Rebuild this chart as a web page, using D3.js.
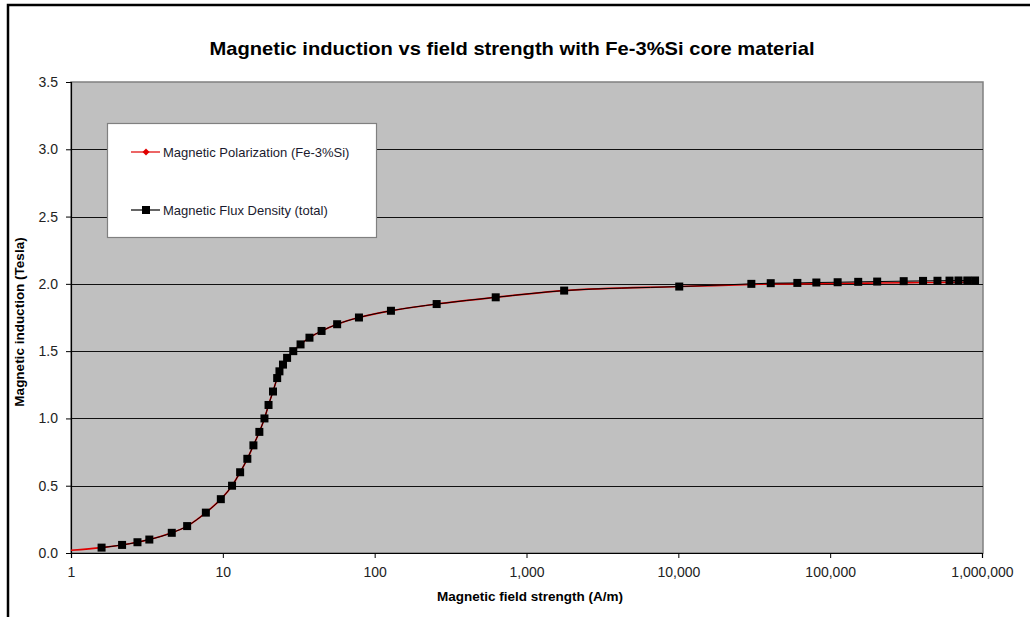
<!DOCTYPE html>
<html><head><meta charset="utf-8">
<script src="https://cdn.jsdelivr.net/npm/d3@7"></script>
<style>body{margin:0;background:#fff;}svg{display:block;font-family:"Liberation Sans",Arial,sans-serif;}</style>
</head><body><svg id="c" width="1030" height="617"></svg>
<script>
// Field strength H (A/m) for Magnetic Flux Density (total)
const fieldH = [1.59,2.17,2.74,3.28,4.61,5.82,7.73,9.7,11.5,13.0,14.5,15.9,17.4,18.8,20.0,21.4,22.8,23.6,24.9,26.5,29.1,32.5,37.2,44.7,56.6,78.8,128,256,627,1770,10140,30260,40600,60800,81100,112000,153000,204000,305000,409000,509000,611000,700000,800000,900000];
const fluxB = [0.04,0.06,0.08,0.10,0.15,0.20,0.30,0.40,0.50,0.60,0.70,0.80,0.90,1.00,1.10,1.20,1.30,1.35,1.40,1.45,1.50,1.55,1.60,1.65,1.70,1.75,1.80,1.85,1.90,1.95,1.98,2.00,2.005,2.007,2.01,2.012,2.015,2.017,2.02,2.022,2.023,2.024,2.025,2.025,2.025];
// Magnetic Polarization (Fe-3%Si)
const polH = [1,1.59,2.17,2.74,3.28,4.61,5.82,7.73,9.7,11.5,13.0,14.5,15.9,17.4,18.8,20.0,21.4,22.8,23.6,24.9,26.5,29.1,32.5,37.2,44.7,56.6,78.8,128,256,627,1770,10140,30260,40600,60800,81100,112000,153000,204000,305000,409000,509000,611000,700000,800000,900000];
const polJ = [0.02,0.04,0.06,0.08,0.10,0.15,0.20,0.30,0.40,0.50,0.60,0.70,0.80,0.90,1.00,1.10,1.20,1.30,1.35,1.40,1.45,1.50,1.55,1.60,1.65,1.70,1.75,1.80,1.85,1.90,1.95,1.98,1.995,2.0,2.0,2.002,2.003,2.005,2.006,2.008,2.01,2.01,2.012,2.012,2.013,2.013];
const xTicks = [1,10,100,1000,10000,100000,1000000];
const yTicks = [0,0.5,1.0,1.5,2.0,2.5,3.0,3.5];
const seriesNames = ["Magnetic Polarization (Fe-3%Si)","Magnetic Flux Density (total)"];

const svg = d3.select("#c");
const L=71, R=982, T=82, B=553;
const x = d3.scaleLog().domain([1,1e6]).range([L,R]);
const y = d3.scaleLinear().domain([0,3.5]).range([B,T]);

// outer frame
svg.append("path").attr("d","M8,617 V5 H1030").attr("fill","none").attr("stroke","#000").attr("stroke-width",2.5);

svg.append("text").attr("x",512).attr("y",55).attr("text-anchor","middle")
  .attr("font-size",18.5).attr("font-weight","bold").attr("textLength",605).attr("lengthAdjust","spacingAndGlyphs")
  .text("Magnetic induction vs field strength with Fe-3%Si core material");

// plot area
svg.append("rect").attr("x",L).attr("y",T).attr("width",R-L+1).attr("height",B-T).attr("fill","#c0c0c0").attr("stroke","#808080").attr("stroke-width",1.5);

// gridlines
svg.append("g").selectAll("line").data(yTicks.filter(d=>d>0 && d<3.5)).join("line")
  .attr("x1",L).attr("x2",R+1).attr("y1",d=>Math.round(y(d))+0.5).attr("y2",d=>Math.round(y(d))+0.5)
  .attr("stroke","#111").attr("stroke-width",1);

// axes
const yAxis = d3.axisLeft(y).tickValues(yTicks).tickFormat(d3.format(".1f")).tickSize(5).tickPadding(8);
const gy = svg.append("g").attr("transform",`translate(${L},0)`).call(yAxis);
const xAxis = d3.axisBottom(x).tickValues(xTicks).tickFormat(d3.format(",")).tickSize(5).tickPadding(9);
const gx = svg.append("g").attr("transform",`translate(0,${B})`).call(xAxis);
[gx,gy].forEach(g=>{
  g.select(".domain").attr("stroke","#000").attr("stroke-width",1.2);
  g.selectAll(".tick line").attr("stroke","#000");
  g.selectAll(".tick text").attr("font-size",14).attr("fill","#222").attr("font-family","'Liberation Sans',Arial,sans-serif");
});

svg.append("text").attr("x",530).attr("y",601).attr("text-anchor","middle").attr("font-size",13.5).attr("font-weight","bold")
  .text("Magnetic field strength (A/m)");
svg.append("text").attr("transform","translate(24,322) rotate(-90)").attr("text-anchor","middle").attr("font-size",13.5).attr("font-weight","bold")
  .text("Magnetic induction (Tesla)");

// lines
const line = d3.line().x(d=>x(d[0])).y(d=>y(d[1])).curve(d3.curveMonotoneX);
const polData = polH.map((h,i)=>[h,polJ[i]]);
const fluxData = fieldH.map((h,i)=>[h,fluxB[i]]);
svg.append("path").datum(polData).attr("d",line).attr("fill","none").attr("stroke","#e00000").attr("stroke-width",1.6);
svg.append("path").datum(fluxData).attr("d",line).attr("fill","none").attr("stroke","#000").attr("stroke-width",1);
svg.append("g").selectAll("rect").data(fluxData).join("rect")
  .attr("x",d=>x(d[0])-4).attr("y",d=>y(d[1])-4).attr("width",8).attr("height",8).attr("fill","#000");

// legend
const lg = svg.append("g");
lg.append("rect").attr("x",107.5).attr("y",123.5).attr("width",269).attr("height",114).attr("fill","#fff").attr("stroke","#808080").attr("stroke-width",1.2);
const ly = [152,210];
lg.append("line").attr("x1",131).attr("x2",160).attr("y1",ly[0]).attr("y2",ly[0]).attr("stroke","#e00000").attr("stroke-width",1.2);
lg.append("path").attr("d",`M146,${ly[0]-3.5} L149.5,${ly[0]} L146,${ly[0]+3.5} L142.5,${ly[0]} Z`).attr("fill","#e00000");
lg.append("line").attr("x1",131).attr("x2",160).attr("y1",ly[1]).attr("y2",ly[1]).attr("stroke","#000").attr("stroke-width",1.2);
lg.append("rect").attr("x",142).attr("y",ly[1]-4).attr("width",8).attr("height",8).attr("fill","#000");
lg.selectAll("text.l").data(seriesNames).join("text").attr("class","l")
  .attr("x",163).attr("y",(d,i)=>ly[i]+4.5).attr("font-size",13).attr("fill","#1a1a2e").text(d=>d);
</script></body></html>
